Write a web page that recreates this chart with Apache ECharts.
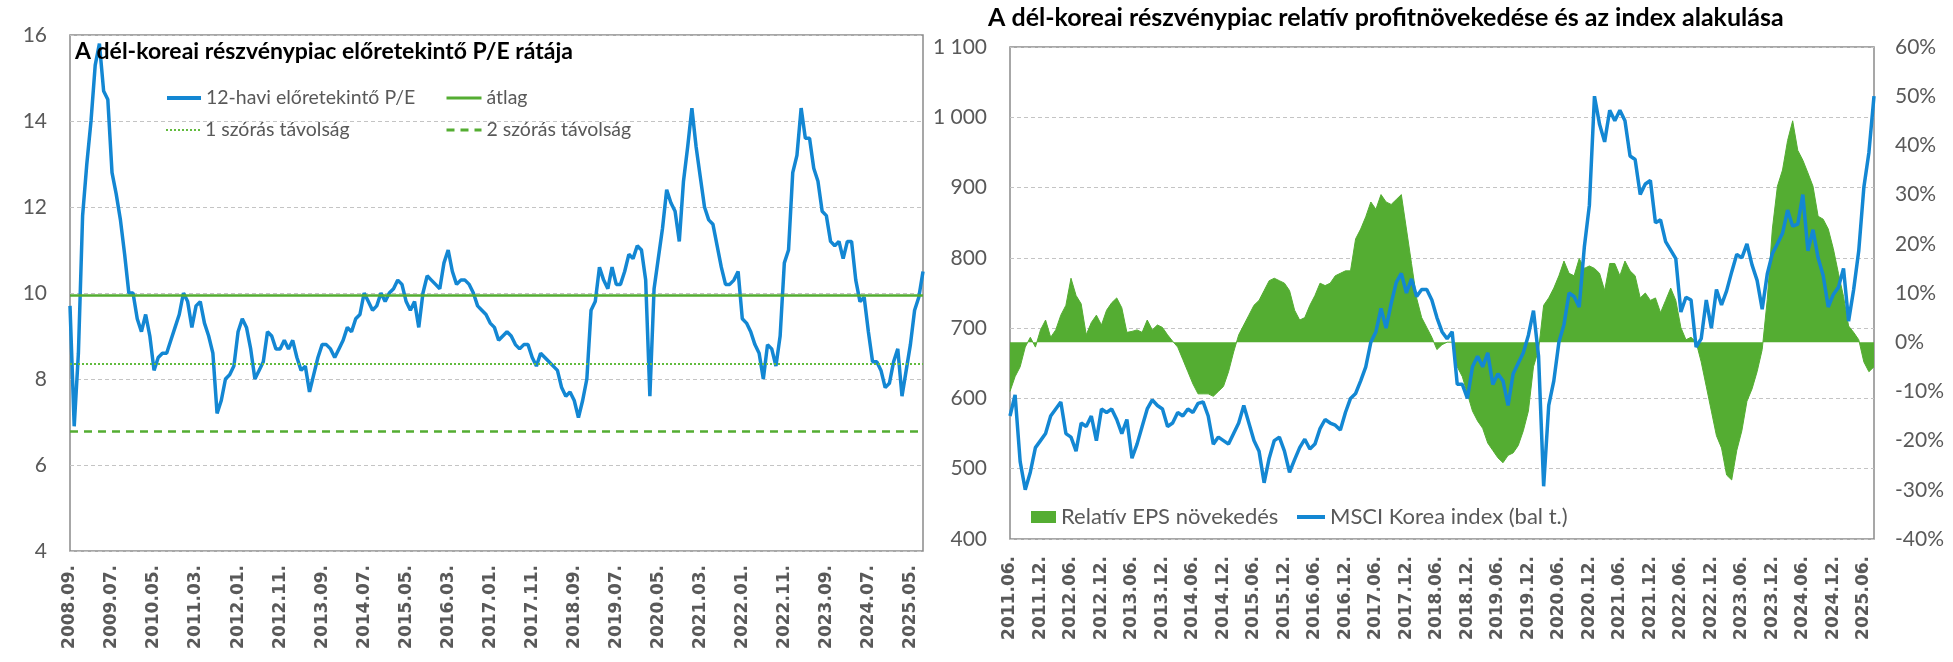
<!DOCTYPE html>
<html>
<head>
<meta charset="utf-8">
<script src="https://cdn.jsdelivr.net/npm/echarts@6/dist/echarts.min.js"></script>
<style>
  html, body { margin: 0; padding: 0; background: #fff; }
  #chart { width: 1953px; height: 662px; }
</style>
</head>
<body>
<div id="chart"></div>
<script>
  // bal oldali ábra: 12-havi előretekintő P/E, havi értékek 2008.09-től
  var peValues = [
    9.7, 6.9, 8.6, 11.8, 13.0, 14.0, 15.3, 15.8, 14.7, 14.5,
    12.8, 12.3, 11.7, 10.9, 10.0, 10.0, 9.4, 9.1, 9.5, 9.0,
    8.2, 8.5, 8.6, 8.6, 8.9, 9.2, 9.5, 10.0, 9.8, 9.2,
    9.7, 9.8, 9.3, 9.0, 8.6, 7.2, 7.5, 8.0, 8.1, 8.3,
    9.1, 9.4, 9.2, 8.7, 8.0, 8.2, 8.4, 9.1, 9.0, 8.7,
    8.7, 8.9, 8.7, 8.9, 8.5, 8.2, 8.3, 7.7, 8.1, 8.5,
    8.8, 8.8, 8.7, 8.5, 8.7, 8.9, 9.2, 9.1, 9.4, 9.5,
    10.0, 9.8, 9.6, 9.7, 10.0, 9.8, 10.0, 10.1, 10.3, 10.2,
    9.8, 9.6, 9.8, 9.2, 10.0, 10.4, 10.3, 10.2, 10.1, 10.7,
    11.0, 10.5, 10.2, 10.3, 10.3, 10.2, 10.0, 9.7, 9.6, 9.5,
    9.3, 9.2, 8.9, 9.0, 9.1, 9.0, 8.8, 8.7, 8.8, 8.8,
    8.5, 8.3, 8.6, 8.5, 8.4, 8.3, 8.2, 7.8, 7.6, 7.7,
    7.5, 7.1, 7.5, 8.0, 9.6, 9.8, 10.6, 10.3, 10.1, 10.6,
    10.2, 10.2, 10.5, 10.9, 10.8, 11.1, 11.0, 10.3, 7.6, 10.1,
    10.8, 11.5, 12.4, 12.1, 11.9, 11.2, 12.6, 13.4, 14.3, 13.4,
    12.7, 12.0, 11.7, 11.6, 11.1, 10.6, 10.2, 10.2, 10.3, 10.5,
    9.4, 9.3, 9.1, 8.8, 8.6, 8.0, 8.8, 8.7, 8.3, 9.0,
    10.7, 11.0, 12.8, 13.2, 14.3, 13.6, 13.6, 12.9, 12.6, 11.9,
    11.8, 11.2, 11.1, 11.2, 10.8, 11.2, 11.2, 10.3, 9.8, 9.9,
    9.1, 8.4, 8.4, 8.2, 7.8, 7.9, 8.4, 8.7, 7.6, 8.2,
    8.8, 9.6, 9.9, 10.5
  ];
  var peAverage = 9.94;
  var peOneSd = 8.36;
  var peTwoSd = 6.78;

  // jobb oldali ábra: MSCI Korea index és relatív EPS növekedés, havi értékek 2011.06-tól
  var msciIndex = [
    575, 605, 510, 470, 495, 530, 540, 550, 575, 585,
    595, 550, 545, 525, 565, 560, 575, 540, 585, 580,
    585, 570, 550, 570, 515, 535, 560, 585, 598, 590,
    585, 560, 565, 580, 575, 585, 580, 593, 595, 575,
    535, 545, 540, 535, 550, 565, 590, 565, 540, 525,
    480, 515, 540, 545, 525, 495, 513, 530, 542, 528,
    535, 557, 570, 565, 562, 555, 580, 600, 607, 625,
    645, 680, 695, 728, 700, 735, 765, 778, 750, 770,
    745, 755, 755, 740, 715, 695, 685, 695, 620, 620,
    600, 645, 660, 645, 665, 620, 635, 625, 590, 635,
    650, 665, 690, 725, 660, 475, 590, 625, 680, 705,
    750, 745, 730, 815, 875, 1030, 990, 965, 1010, 995,
    1010, 995, 945, 940, 890, 905, 910, 850, 854, 823,
    811, 799, 723, 744, 740, 673, 685, 740, 700, 755,
    733, 753, 780, 805, 800, 820, 790, 768, 727, 777,
    806, 820, 835, 868, 845, 848, 890, 810, 840, 800,
    775, 730, 748, 758, 785, 710, 755, 810, 900, 950,
    1030
  ];
  var epsGrowth = [
    -10, -7, -5, -1, 1, -1, 2.5, 4.5, 1, 2.5,
    5.5, 7.5, 13, 9.5, 7.8, 1.5, 4, 5.5, 3.5, 6.5,
    8, 9, 7, 2, 2.2, 2.5, 2, 4.5, 2.5, 3.5,
    3, 1.5, 0.2, -1, -3.5, -6, -8.5, -10.5, -10.5, -10.5,
    -11, -10, -9, -6, -2, 1.5, 3.5, 5.5, 7.5, 8.5,
    10.5, 12.5, 13, 12.5, 12, 10.5, 6.5, 4.5, 5, 7.5,
    9.5, 12, 11.5, 12, 13.5, 14, 14.5, 14.5, 21, 23,
    25.5, 28.5, 27, 30, 28.5, 28, 29, 30, 23, 16,
    9, 5, 3, 1, -1.5, -0.5, 0, 0, -5, -7,
    -10.5, -14, -16, -17.5, -20.5, -22, -23.5, -24.5, -23, -22.5,
    -21, -18, -14, -5, -1.5, 7.5, 9, 11, 13.5, 16.5,
    14, 13.5, 17, 15, 15.5, 15, 14, 10.5, 16, 16,
    13.5, 16.5, 14.5, 13.5, 9, 10, 8.5, 9, 6, 8.5,
    11, 8.5, 3, 0.5, 1, 0, -4, -9, -14, -19,
    -21.5, -27, -28, -22, -18, -12, -9.5, -6, -1.5, 8.7,
    23, 31.7, 35, 41, 45, 39, 37, 34.4, 31.7, 25.6,
    25, 23, 19, 14, 9.3, 3.3, 2, 0.5, -4, -6,
    -5
  ];

  function monthLabels(year, month, count) {
    var out = [];
    for (var i = 0; i < count; i++) {
      out.push(year + '.' + (month < 10 ? '0' + month : month) + '.');
      month++;
      if (month > 12) { month = 1; year++; }
    }
    return out;
  }
  var peMonths = monthLabels(2008, 9, peValues.length);
  var indexMonths = monthLabels(2011, 6, msciIndex.length);

  var blue = '#1387d3';
  var green = '#54ad32';
  var gray = '#595959';
  var uiFont = 'Lato, "Noto Sans", sans-serif';
  var tickFont = '"DejaVu Sans", Verdana, sans-serif';

  var chart = echarts.init(document.getElementById('chart'));

  // vonalas jelmagyarázat, a közepén lévő kör nélkül
  function lineLegend(name, left, top, size, width, lineWidth) {
    return {
      data: [name],
      left: left,
      top: top,
      padding: 0,
      itemWidth: width,
      itemHeight: 14,
      selectedMode: false,
      itemStyle: {opacity: 0, borderWidth: 0},
      lineStyle: {width: lineWidth},
      textStyle: {fontFamily: uiFont, fontSize: size, color: gray}
    };
  }
  function refLine(name, value, style) {
    return {
      name: name,
      type: 'line',
      xAxisIndex: 0,
      yAxisIndex: 0,
      data: [],
      symbol: 'none',
      itemStyle: {color: style.color},
      lineStyle: style,
      markLine: {
        silent: true,
        symbol: 'none',
        label: {show: false},
        lineStyle: style,
        data: [{yAxis: value}]
      }
    };
  }
  function splitStyle() {
    return {show: true, lineStyle: {color: '#c4c4c4', width: 1, type: [4, 3]}};
  }

  chart.setOption({
    animation: false,
    title: [
      {
        text: 'A dél-koreai részvénypiac előretekintő P/E rátája',
        left: 75,
        top: 40,
        padding: 0,
        textStyle: {fontFamily: uiFont, fontSize: 23, fontWeight: 'bold', color: '#000'}
      },
      {
        text: 'A dél-koreai részvénypiac relatív profitnövekedése és az index alakulása',
        left: 988,
        top: 5,
        padding: 0,
        textStyle: {fontFamily: uiFont, fontSize: 25, fontWeight: 'bold', color: '#000'}
      }
    ],
    legend: [
      lineLegend('12-havi előretekintő P/E', 165, 88, 19.5, 34, 4),
      lineLegend('átlag', 445, 88, 19.5, 35, 3),
      lineLegend('1 szórás távolság', 165, 120, 19.5, 34, 2),
      lineLegend('2 szórás távolság', 445, 120, 19.5, 35, 3),
      {
        data: [{name: 'Relatív EPS növekedés', icon: 'rect'}],
        left: 1031,
        top: 506,
        padding: 0,
        itemWidth: 25,
        itemHeight: 12,
        selectedMode: false,
        textStyle: {fontFamily: uiFont, fontSize: 22, color: gray}
      },
      lineLegend('MSCI Korea index (bal t.)', 1295, 506, 22, 28, 4)
    ],
    grid: [
      {left: 70, top: 35, width: 853, height: 516, show: true, borderColor: '#8a8a8a', borderWidth: 1.5, outerBoundsMode: 'none'},
      {left: 1010, top: 47, width: 864, height: 492, show: true, borderColor: '#8a8a8a', borderWidth: 1.5, outerBoundsMode: 'none'}
    ],
    xAxis: [
      {
        type: 'category',
        gridIndex: 0,
        data: peMonths,
        boundaryGap: false,
        axisLine: {show: false},
        axisTick: {show: false},
        axisLabel: {rotate: 90, interval: 9, margin: 14, fontFamily: tickFont, fontWeight: 'bold', fontSize: 17, color: gray}
      },
      {
        type: 'category',
        gridIndex: 1,
        data: indexMonths,
        boundaryGap: false,
        axisLine: {show: false},
        axisTick: {show: false},
        axisLabel: {rotate: 90, interval: 5, margin: 17, fontFamily: tickFont, fontWeight: 'bold', fontSize: 17, color: gray}
      }
    ],
    yAxis: [
      {
        type: 'value',
        gridIndex: 0,
        min: 4,
        max: 16,
        interval: 2,
        axisLine: {show: false},
        axisTick: {show: false},
        splitLine: splitStyle(),
        axisLabel: {margin: 23, fontFamily: uiFont, fontSize: 21, color: gray}
      },
      {
        type: 'value',
        gridIndex: 1,
        position: 'left',
        min: 400,
        max: 1100,
        interval: 100,
        axisLine: {show: false},
        axisTick: {show: false},
        splitLine: splitStyle(),
        axisLabel: {
          margin: 23,
          fontFamily: uiFont,
          fontSize: 21,
          color: gray,
          formatter: function (v) { return String(v).replace(/\B(?=(\d{3})+(?!\d))/g, ' '); }
        }
      },
      {
        type: 'value',
        gridIndex: 1,
        position: 'right',
        min: -40,
        max: 60,
        interval: 10,
        axisLine: {show: false},
        axisTick: {show: false},
        splitLine: {show: false},
        axisLabel: {margin: 21, fontFamily: uiFont, fontSize: 21, color: gray, formatter: '{value}%'}
      }
    ],
    series: [
      {
        name: '12-havi előretekintő P/E',
        type: 'line',
        xAxisIndex: 0,
        yAxisIndex: 0,
        data: peValues,
        symbol: 'none',
        itemStyle: {color: blue},
        lineStyle: {color: blue, width: 3.5}
      },
      refLine('átlag', peAverage, {color: green, width: 2.5, type: 'solid'}),
      refLine('1 szórás távolság', peOneSd, {color: '#62bb3e', width: 2, type: [2, 2]}),
      refLine('2 szórás távolság', peTwoSd, {color: green, width: 2.5, type: [8, 6]}),
      {
        name: 'Relatív EPS növekedés',
        type: 'line',
        xAxisIndex: 1,
        yAxisIndex: 2,
        data: epsGrowth,
        symbol: 'none',
        itemStyle: {color: green},
        lineStyle: {color: green, width: 1},
        areaStyle: {color: green, opacity: 1}
      },
      {
        name: 'MSCI Korea index (bal t.)',
        type: 'line',
        xAxisIndex: 1,
        yAxisIndex: 1,
        data: msciIndex,
        symbol: 'none',
        itemStyle: {color: blue},
        lineStyle: {color: blue, width: 3.5}
      }
    ]
  });
</script>
</body>
</html>
